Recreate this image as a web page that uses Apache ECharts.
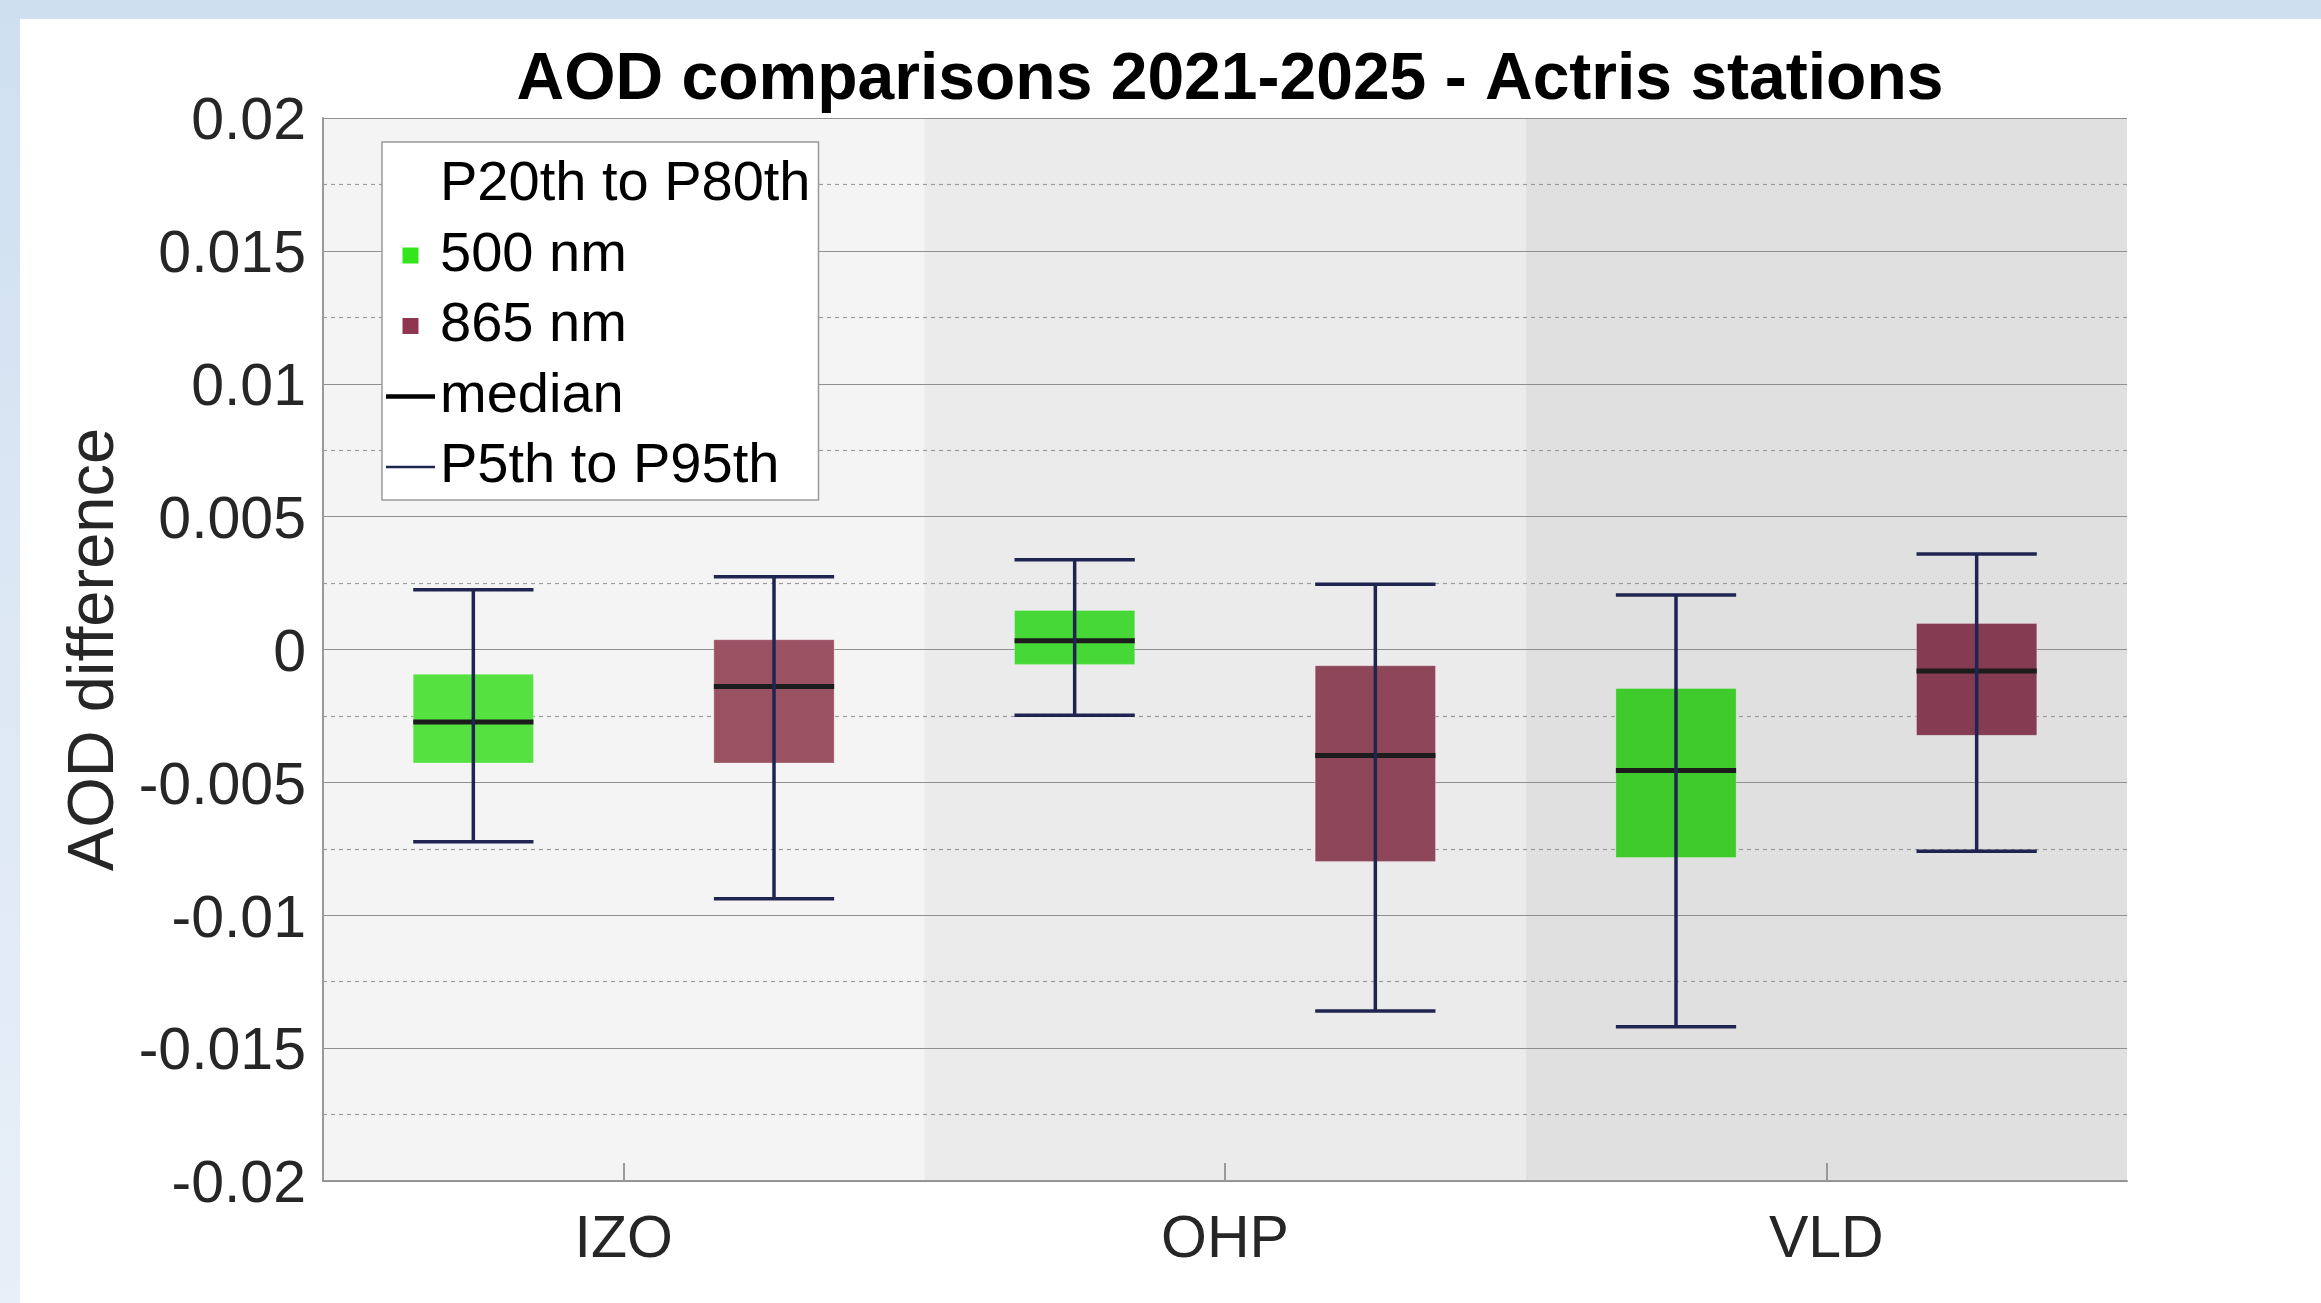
<!DOCTYPE html>
<html>
<head>
<meta charset="utf-8">
<script src="https://cdn.jsdelivr.net/npm/echarts@6/dist/echarts.min.js"></script>
<style>
  html, body { margin: 0; padding: 0; width: 2321px; height: 1303px; overflow: hidden;
    background: linear-gradient(to bottom, #cedff0 0%, #dde8f4 50%, #e8eff8 100%); }
  #panel { position: absolute; left: 20px; top: 19px; right: 0; bottom: 0; background: #ffffff; }
  #chart { position: absolute; left: 0; top: 0; width: 2321px; height: 1303px; }
</style>
</head>
<body>
<div id="panel"></div>
<div id="chart"></div>
<script>
// ---- data ----
const stations = ['IZO', 'OHP', 'VLD'];
const bandColors = ['#f4f4f4', '#ebebeb', '#e0e0e0'];

const p5_500  = [-0.00723, -0.00247, -0.01420];
const p20_500 = [-0.00427, -0.00056, -0.00783];
const med_500 = [-0.00273,  0.00033, -0.00455];
const p80_500 = [-0.00093,  0.00147, -0.00147];
const p95_500 = [ 0.00225,  0.00338,  0.00205];

const p5_865  = [-0.00938, -0.01360, -0.00759];
const p20_865 = [-0.00427, -0.00798, -0.00323];
const med_865 = [-0.00139, -0.00399, -0.00081];
const p80_865 = [ 0.00037, -0.00061,  0.00098];
const p95_865 = [ 0.00274,  0.00246,  0.00359];

const green500 = ['#55e241', '#46d836', '#3ecb2b'];
const red865   = ['#9a5263', '#8e4759', '#853b51'];

const yTicks = { min: -0.02, max: 0.02, interval: 0.005 };

function rows(p5, p20, med, p80, p95) {
  return stations.map((s, i) => [s, p5[i], p20[i], med[i], p80[i], p95[i]]);
}

function makeRender(side, colors) {
  return function (params, api) {
    const idx = params.dataIndex;
    const cx = api.coord([api.value(0), 0])[0];
    const bw = api.size([1, 0])[0];
    const x = cx + side * bw * 0.25;
    const w = bw * 0.2;
    const y5  = api.coord([api.value(0), api.value(1)])[1];
    const y20 = api.coord([api.value(0), api.value(2)])[1];
    const ym  = api.coord([api.value(0), api.value(3)])[1];
    const y80 = api.coord([api.value(0), api.value(4)])[1];
    const y95 = api.coord([api.value(0), api.value(5)])[1];
    const wh = '#1f2550';
    return {
      type: 'group',
      children: [
        { type: 'rect', shape: { x: x - w / 2, y: y80, width: w, height: y20 - y80 },
          style: { fill: colors[idx], stroke: 'rgba(255,255,255,0.25)', lineWidth: 1 } },
        { type: 'line', shape: { x1: x - w / 2, y1: ym, x2: x + w / 2, y2: ym },
          style: { stroke: '#1c1c1c', lineWidth: 5 } },
        { type: 'line', shape: { x1: x, y1: y95, x2: x, y2: y5 },
          style: { stroke: wh, lineWidth: 3.5 } },
        { type: 'line', shape: { x1: x - w / 2, y1: y95, x2: x + w / 2, y2: y95 },
          style: { stroke: wh, lineWidth: 3.5 } },
        { type: 'line', shape: { x1: x - w / 2, y1: y5, x2: x + w / 2, y2: y5 },
          style: { stroke: wh, lineWidth: 3.5 } }
      ]
    };
  };
}

const chart = echarts.init(document.getElementById('chart'), null, { renderer: 'canvas' });
const font = 'Liberation Sans, Arial, Helvetica, sans-serif';

chart.setOption({
  animation: false,
  backgroundColor: 'transparent',
  textStyle: { fontFamily: font },
  title: {
    text: 'AOD comparisons 2021-2025 - Actris stations',
    left: 1225,
    top: 43,
    textAlign: 'center',
    textStyle: { fontFamily: font, fontSize: 66, fontWeight: 'bold', color: '#000000' }
  },
  grid: { left: 323, right: 194, top: 118, bottom: 122, containLabel: false },
  legend: {
    orient: 'vertical',
    left: 382,
    top: 142,
    backgroundColor: '#ffffff',
    borderColor: '#9a9a9a',
    borderWidth: 1.5,
    borderRadius: 0,
    padding: [13, 8, 3, 4],
    itemGap: 10.5,
    itemWidth: 49,
    itemHeight: 16,
    selectedMode: false,
    symbolKeepAspect: true,
    textStyle: { fontFamily: font, fontSize: 56, lineHeight: 60, color: '#000000' },
    data: [
      { name: 'P20th to P80th', icon: 'rect', itemStyle: { color: 'rgba(0,0,0,0)', borderWidth: 0 } },
      { name: '500 nm', icon: 'path://M0,0H16V16H0Z', itemStyle: { color: '#33e61c', borderWidth: 0 } },
      { name: '865 nm', icon: 'path://M0,0H16V16H0Z', itemStyle: { color: '#8e3650', borderWidth: 0 } },
      { name: 'median', icon: 'path://M0,0H49V4.5H0Z', itemStyle: { color: '#000000', borderWidth: 0 } },
      { name: 'P5th to P95th', icon: 'path://M0,0H49V2.5H0Z', itemStyle: { color: '#1f2550', borderWidth: 0 } }
    ]
  },
  xAxis: {
    type: 'category',
    data: stations,
    z: 0,
    boundaryGap: true,
    axisLine: { show: true, onZero: false, lineStyle: { color: '#9a9a9a', width: 2 } },
    axisTick: { show: true, inside: true, alignWithLabel: true, length: 18, lineStyle: { color: '#9a9a9a', width: 2 } },
    axisLabel: { fontFamily: font, fontSize: 59, color: '#262626', margin: 30 },
    splitLine: { show: false },
    splitArea: { show: true, areaStyle: { color: bandColors } }
  },
  yAxis: {
    type: 'value',
    z: 1,
    min: yTicks.min,
    max: yTicks.max,
    interval: yTicks.interval,
    name: 'AOD difference',
    nameLocation: 'middle',
    nameGap: 193,
    nameTextStyle: { fontFamily: font, fontSize: 65, color: '#262626' },
    axisLine: { show: true, lineStyle: { color: '#9a9a9a', width: 2 } },
    axisTick: { show: false },
    axisLabel: {
      fontFamily: font, fontSize: 59, color: '#262626', margin: 17,
      formatter: function (v) { return '{v|' + v + '}'; },
      rich: { v: { fontFamily: font, fontSize: 59, color: '#262626', padding: [10, 0, 0, 0] } }
    },
    splitLine: { show: true, lineStyle: { color: '#8f8f8f', width: 1.2 } },
    minorTick: { show: false, splitNumber: 2 },
    minorSplitLine: { show: true, lineStyle: { color: '#9c9c9c', width: 1.2, type: [4, 4] } }
  },
  series: [
    { name: 'P20th to P80th', type: 'line', data: [] },
    {
      name: '500 nm', type: 'custom', z: 3,
      renderItem: makeRender(-1, green500),
      encode: { x: 0, y: [1, 2, 3, 4, 5] },
      data: rows(p5_500, p20_500, med_500, p80_500, p95_500)
    },
    {
      name: '865 nm', type: 'custom', z: 3,
      renderItem: makeRender(1, red865),
      encode: { x: 0, y: [1, 2, 3, 4, 5] },
      data: rows(p5_865, p20_865, med_865, p80_865, p95_865)
    },
    { name: 'median', type: 'line', data: [] },
    { name: 'P5th to P95th', type: 'line', data: [] }
  ]
});
</script>
</body>
</html>
